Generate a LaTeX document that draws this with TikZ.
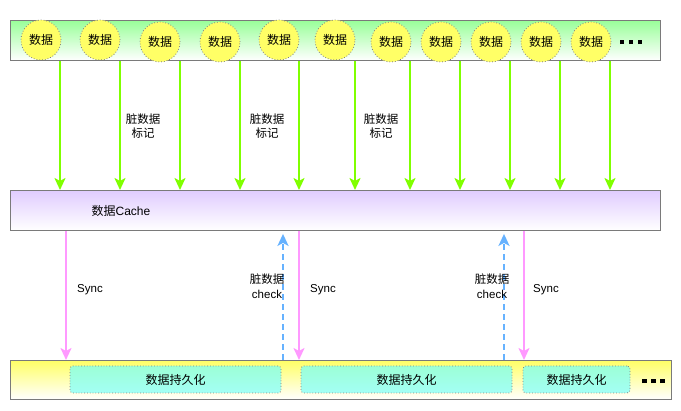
\documentclass[tikz,border=0pt]{standalone}
\usepackage{fontspec}
\setmainfont{Liberation Sans}
\newfontfamily\cjk{Noto Sans CJK SC}
\usetikzlibrary{arrows.meta}
\definecolor{bargray}{HTML}{7A7A7A}
\definecolor{topgreen}{HTML}{99FF99}
\definecolor{cachepurple}{HTML}{E0CCFF}
\definecolor{botyellow}{HTML}{FFFF66}
\definecolor{circleyellow}{HTML}{FFFF66}
\definecolor{mintA}{HTML}{9CFFD6}
\definecolor{mintB}{HTML}{A3FFF5}
\definecolor{arrowgreen}{HTML}{80FF00}
\definecolor{arrowpink}{HTML}{FF99FF}
\definecolor{arrowblue}{HTML}{66B2FF}
\begin{document}
\begin{tikzpicture}[x=1pt,y=-1pt,
  bar/.style={draw=bargray, line width=0.9pt, minimum width=650pt, minimum height=40pt, anchor=north west, inner sep=0pt},
  datacircle/.style={circle, draw=gray, dotted, line width=0.8pt, fill=circleyellow, minimum size=40pt, inner sep=0pt, font=\cjk\fontsize{12}{14}\selectfont},
  persistbox/.style={rectangle, rounded corners=3pt, draw=gray, dotted, line width=0.8pt, top color=mintA, bottom color=mintB, minimum height=27pt, inner sep=0pt, font=\cjk\fontsize{12}{14}\selectfont},
  lbl/.style={align=center, inner sep=0pt, font=\fontsize{11.5}{14.5}\selectfont},
  tip/.style={-{Stealth[length=12pt, width=11pt, inset=3pt]}},
  garrow/.style={draw=arrowgreen, line width=2.3pt, tip},
  parrow/.style={draw=arrowpink, line width=2.3pt, tip},
  barrow/.style={draw=arrowblue, line width=2.3pt, dash pattern=on 6pt off 4pt, tip},
  dotsq/.style={inner sep=0pt}
]
\useasboundingbox (0,0) rectangle (681,411);

% bars
\node[bar, top color=topgreen, bottom color=white] (topbar) at (10,20) {};
\node[bar, top color=cachepurple, bottom color=white] (cache) at (10,190) {};
\node[bar, minimum width=661pt, minimum height=39pt, top color=botyellow, bottom color=white] (botbar) at (10,360) {};

% data circles
\foreach \x/\y [count=\i] in {41/40,100/40,160/42,220/42,279/40,335/40,391/42,441/42,491/42,541/42,591/42}
  \node[datacircle] (d\i) at (\x,\y) {数据};
\node[dotsq] (topdots) at (631,42) {\rule{4.5pt}{4.5pt}\hspace{4.5pt}\rule{4.5pt}{4.5pt}\hspace{4.5pt}\rule{4.5pt}{4.5pt}};

% green arrows
\foreach \x [count=\i] in {60,120,180,240,299,355,410,460,510,560,610} {
  \coordinate (g\i) at (\x,0);
  \draw[garrow] (topbar.south -| g\i) -- (cache.north -| g\i);
}

% dirty labels
\foreach \x [count=\i] in {143,267,381}
  \node[lbl] (mark\i) at (\x,126) {{\cjk 脏数据}\\{\cjk 标记}};

% cache text
\node[inner sep=0pt, font=\fontsize{12}{14}\selectfont] (cachetext) at (121,211) {{\cjk 数据}Cache};

% sync arrows
\foreach \x [count=\i] in {66,299,524} {
  \coordinate (s\i) at (\x,0);
  \draw[parrow] (cache.south -| s\i) -- (botbar.north -| s\i);
}
\foreach \x [count=\i] in {90,323,546}
  \node[lbl] (sync\i) at (\x,290) {Sync};

% check arrows
\foreach \x [count=\i] in {283,504} {
  \coordinate (c\i) at (\x,0);
  \draw[barrow, shorten >=3pt] (botbar.north -| c\i) -- (cache.south -| c\i);
}
\node[lbl] (chk1) at (267,286) {{\cjk 脏数据}\\check};
\node[lbl] (chk2) at (492,286) {{\cjk 脏数据}\\check};

% persistence boxes
\node[persistbox, minimum width=211pt] (p1) at (175.5,379.5) {数据持久化};
\node[persistbox, minimum width=211pt] (p2) at (406.5,379.5) {数据持久化};
\node[persistbox, minimum width=107pt] (p3) at (576.5,379.5) {数据持久化};
\node[dotsq] (botdots) at (653.5,381) {\rule{4.5pt}{4.5pt}\hspace{4.5pt}\rule{4.5pt}{4.5pt}\hspace{4.5pt}\rule{4.5pt}{4.5pt}};
\end{tikzpicture}
\end{document}
